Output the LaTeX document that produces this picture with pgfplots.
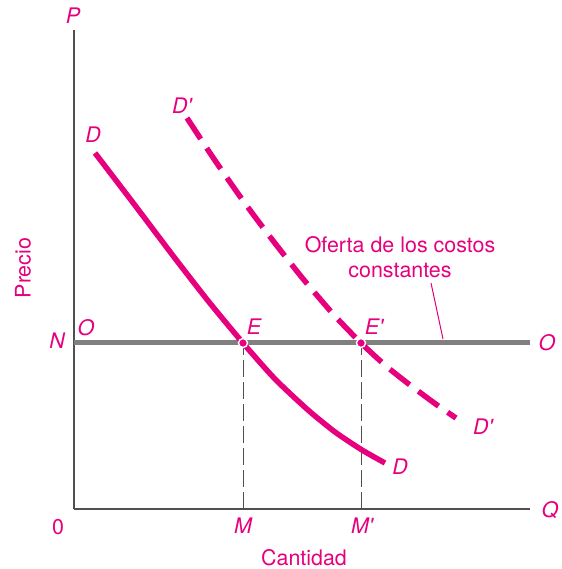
\documentclass[border=0pt]{standalone}
\usepackage{fontspec}
\setmainfont{TeX Gyre Heros}
\usepackage{pgfplots}
\pgfplotsset{compat=1.18}
\definecolor{mag}{RGB}{230,0,126}
\definecolor{axgray}{RGB}{80,80,80}
\definecolor{supgray}{RGB}{128,128,128}
\newcommand{\pr}{\textquotesingle}
\tikzset{lbl/.style={text=mag, inner sep=0pt, font=\fontsize{21.5}{25}\selectfont}}
\begin{document}
\begin{tikzpicture}
\begin{axis}[
  x=1bp, y=1bp,
  xmin=0, xmax=456, ymin=0, ymax=479,
  axis lines=left,
  axis line style={-, draw=axgray, line width=1.2bp},
  xtick=\empty, ytick=\empty,
  clip=false,
]
\path (axis cs:-74,-60) rectangle (axis cs:488,509);
% supply line
\addplot[supgray, line width=5bp] coordinates {(0,166) (456,166)};
% vertical dashed guides
\addplot[axgray, line width=1bp, dash pattern=on 17bp off 5bp] coordinates {(169,0) (169,166)};
\addplot[axgray, line width=1bp, dash pattern=on 17bp off 5bp] coordinates {(287,0) (287,166)};
% demand D
\addplot[mag, line width=5.5bp, smooth, tension=0.4] coordinates {
 (21,356) (60,305) (100,252) (135,207) (169,166) (201,130) (234,99) (261,77) (288,59) (311,46)};
% demand D'
\addplot[mag, line width=5.5bp, smooth, tension=0.4, dash pattern=on 25bp off 11bp] coordinates {
 (113,391) (140,350) (170,307) (200,267) (230,229) (260,194) (287,166) (312,143) (336,124) (363,104) (382,91)};
% leader line
\addplot[mag, line width=1bp] coordinates {(357,226) (369,170)};
% equilibrium points
\addplot[only marks, mark=*, mark size=4.5bp, mark options={fill=mag, draw=white, line width=1.4bp}] coordinates {(169,166) (287,166)};
% labels
\node[lbl] at (axis cs:-1,493) {\itshape P};
\node[lbl] at (axis cs:476,-1) {\itshape Q};
\node[lbl] at (axis cs:-16,-18) {0};
\node[lbl] at (axis cs:19,374) {\itshape D};
\node[lbl] at (axis cs:108,403) {\itshape D\pr};
\node[lbl, rotate=90] at (axis cs:-51,241) {Precio};
\node[lbl] at (axis cs:230,-49) {Cantidad};
\node[lbl] at (axis cs:-17,168) {\itshape N};
\node[lbl] at (axis cs:12,181) {\itshape O};
\node[lbl] at (axis cs:473,166) {\itshape O};
\node[lbl] at (axis cs:180,182) {\itshape E};
\node[lbl] at (axis cs:300,182) {\itshape E\pr};
\node[lbl] at (axis cs:326,264) {Oferta de los costos};
\node[lbl] at (axis cs:326,238) {constantes};
\node[lbl] at (axis cs:409,82) {\itshape D\pr};
\node[lbl] at (axis cs:326,42) {\itshape D};
\node[lbl] at (axis cs:169,-17) {\itshape M};
\node[lbl] at (axis cs:288,-17) {\itshape M\pr};
\end{axis}
\end{tikzpicture}
\end{document}
